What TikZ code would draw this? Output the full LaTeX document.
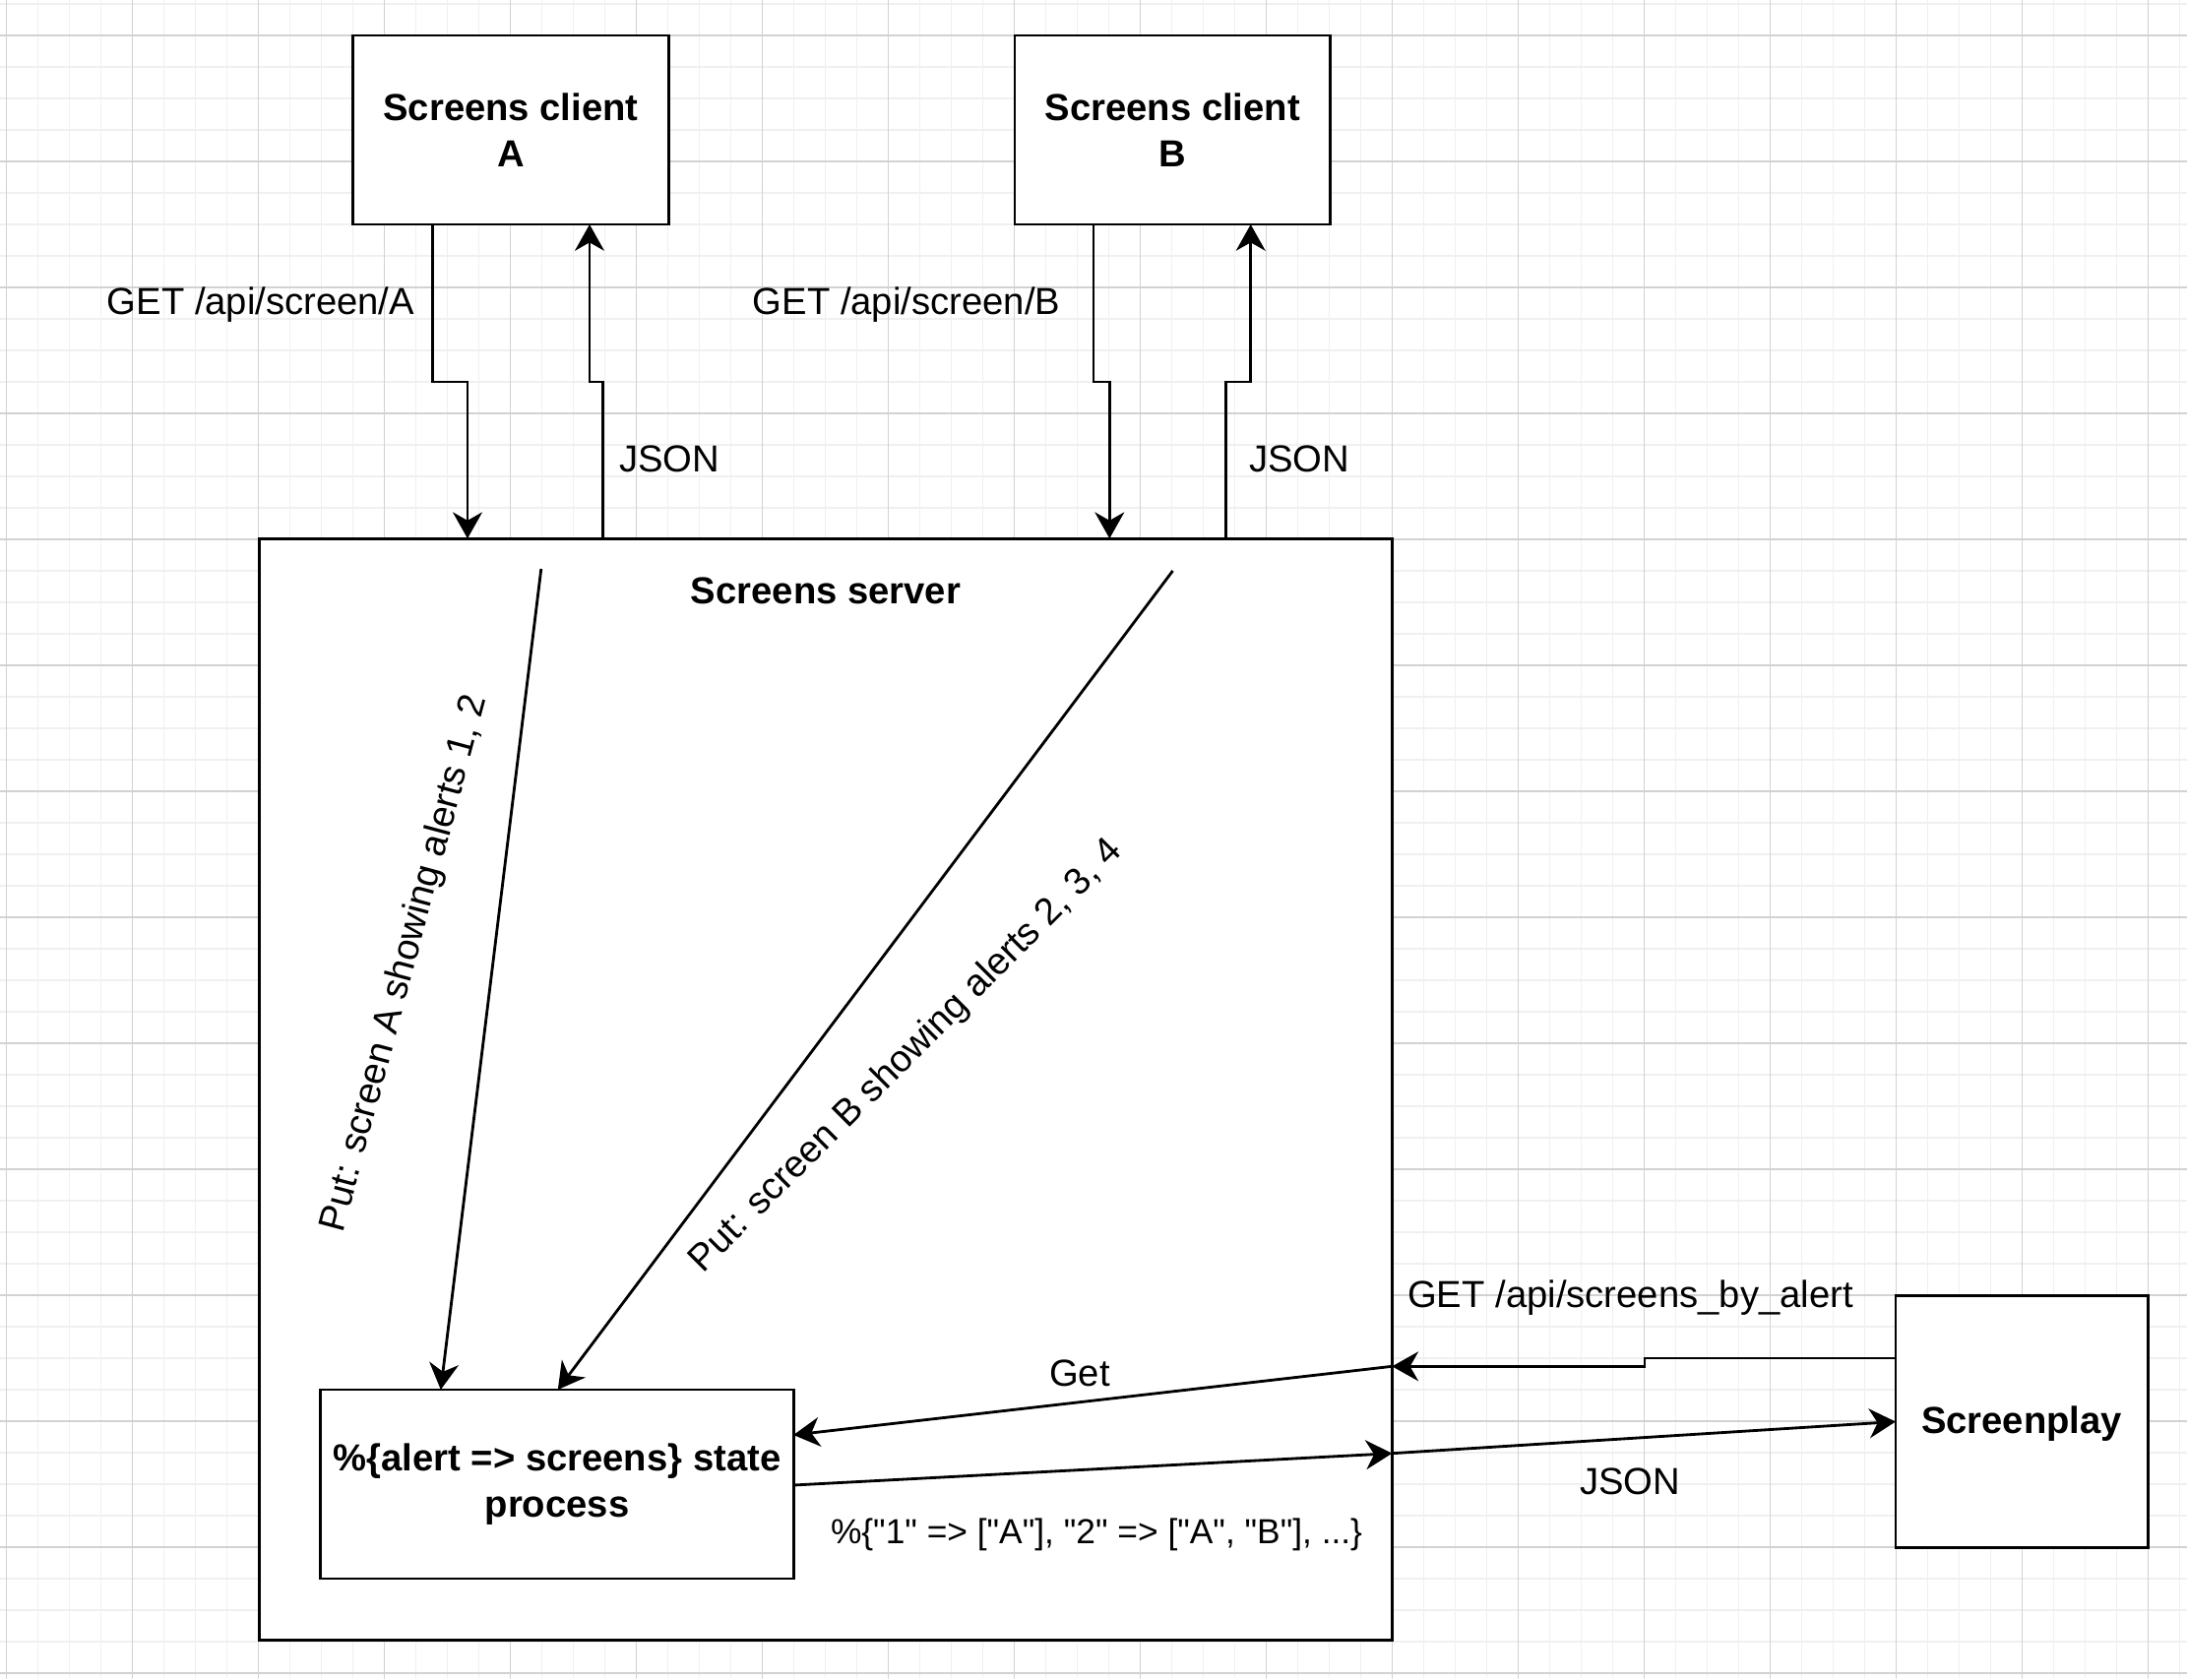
\documentclass[tikz,border=0pt]{standalone}
\usepackage{fontspec}
\setmainfont{Liberation Sans}[Ligatures=TeXOff]
\usetikzlibrary{arrows.meta}
\definecolor{gmin}{RGB}{240,240,240}
\definecolor{gmaj}{RGB}{210,210,210}
\tikzset{
  gridminor/.style={draw=gmin, line width=0.5pt},
  gridmajor/.style={draw=gmaj, line width=0.5pt},
  box/.style={draw=black, fill=white, line width=0.8pt, inner sep=0pt, outer sep=0pt, align=center,
    font=\fontsize{10.87pt}{13.3pt}\selectfont\bfseries},
  lbl/.style={inner sep=0pt, text height=0.9em, text depth=0.2em, font=\fontsize{10.87pt}{13.3pt}\selectfont},
  blbl/.style={inner sep=0pt, text height=0.9em, text depth=0.2em, font=\fontsize{10.87pt}{13.3pt}\selectfont\bfseries},
  slbl/.style={inner sep=0pt, text height=0.9em, text depth=0.2em, font=\fontsize{10.05pt}{12pt}\selectfont},
  arr/.style={draw=black, line width=0.8pt, -{Stealth[length=7.6pt, width=8.5pt, inset=2.4pt]}},
  ln/.style={draw=black, line width=0.8pt}
}
\begin{document}
\begin{tikzpicture}[x=0.01cm, y=-0.01cm]
\useasboundingbox (0,0) rectangle (2222,1706);
\fill[white] (0,0) rectangle (2222,1706);
% grid
\foreach \i in {0,...,69} { \draw[gridminor] ({6.5+32*\i},0) -- ({6.5+32*\i},1706); }
\foreach \j in {0,...,53} { \draw[gridminor] (0,{4+32*\j}) -- (2222,{4+32*\j}); }
\foreach \i in {0,...,17} { \draw[gridmajor] ({6.5+128*\i},0) -- ({6.5+128*\i},1706); }
\foreach \j in {0,...,13} { \draw[gridmajor] (0,{36+128*\j}) -- (2222,{36+128*\j}); }

% boxes
\node[box, minimum width=3.206cm, minimum height=1.92cm] (clientA) at (519,132) {Screens client\\A};
\node[box, minimum width=3.206cm, minimum height=1.92cm] (clientB) at (1191.3,132) {Screens client\\B};
\node[box, minimum width=11.504cm, minimum height=11.19cm] (server) at (838.8,1107) {};
\node[box, minimum width=4.8cm, minimum height=1.92cm] (state) at (566,1508) {\%\{alert => screens\} state\\process};
\node[box, minimum width=2.56cm, minimum height=2.56cm, text height=0.9em, text depth=0.2em] (screenplay) at (2054,1444.5) {Screenplay};

% client arrows
\draw[arr] (439.3,0 |- clientA.south) -- (439.3,388) -- (475,388) -- (475,0 |- server.north);
\draw[arr] (612.3,0 |- server.north) -- (612.3,388) -- (599,388) -- (599,0 |- clientA.south);
\draw[arr] (1111,0 |- clientB.south) -- (1111,388) -- (1127.3,388) -- (1127.3,0 |- server.north);
\draw[arr] (1245.7,0 |- server.north) -- (1245.7,388) -- (1270.7,388) -- (1270.7,0 |- clientB.south);

% put arrows
\coordinate (pa) at (549.8,578);
\coordinate (pb) at (1191.5,580);
\draw[arr] (pa) -- (447.8,0 |- state.north);
\draw[arr] (pb) -- (566.8,0 |- state.north);

% get / json
\draw[arr] (server.east |- 0,1388.3) -- (state.east |- 0,1458);
\draw[arr] (screenplay.west |- 0,1380) -- (1671,1380) -- (1671,1388.3) -- (server.east |- 0,1388.3);
\draw[arr] (state.east |- 0,1509) -- (server.east |- 0,1476.7);
\draw[arr] (server.east |- 0,1476.7) -- (screenplay.west);

% labels
\node[lbl] (lga) at (265,307.5) {GET /api/screen/A};
\node[lbl] (lgb) at (921,307.5) {GET /api/screen/B};
\node[lbl] (lja) at (680,467.6) {JSON};
\node[lbl] (ljb) at (1320,467.6) {JSON};
\node[blbl] (lserver) at (839,601) {Screens server};
\node[lbl, rotate=75] (lputa) at (409.5,978.5) {Put: screen A showing alerts 1, 2};
\node[lbl, rotate=45] (lputb) at (919.5,1072) {Put: screen B showing alerts 2, 3, 4};
\node[lbl] (lget) at (1097,1396.5) {Get};
\node[lbl] (lgsa) at (1656.5,1316.5) {GET /api/screens\_by\_alert};
\node[lbl] (ljc) at (1656,1506.5) {JSON};
\node[slbl] (lmap) at (1114,1556) {\%\{"1" => ["A"], "2" => ["A", "B"], ...\}};
\end{tikzpicture}
\end{document}
